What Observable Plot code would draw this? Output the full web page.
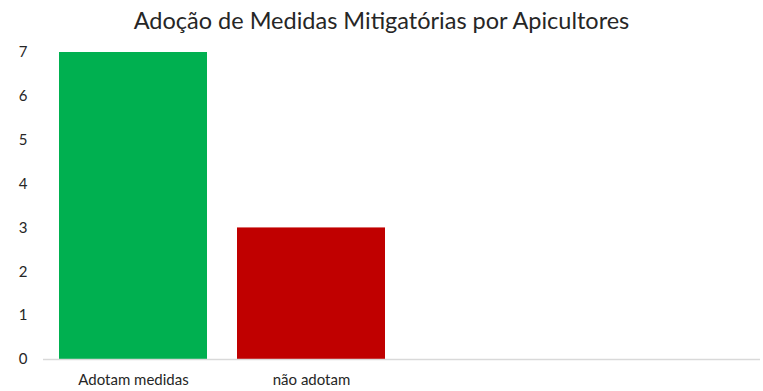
<!DOCTYPE html>
<html>
<head>
<meta charset="utf-8">
<script src="https://cdn.jsdelivr.net/npm/d3@7"></script>
<script src="https://cdn.jsdelivr.net/npm/@observablehq/plot@0.6"></script>
<style>
  body { margin: 0; background: #fff; font-family: Lato, "Open Sans", sans-serif; }
  #title { height: 40px; line-height: 40px; text-align: center; font-size: 23.5px; color: #262626; }
</style>
</head>
<body>
<div id="title">Adoção de Medidas Mitigatórias por Apicultores</div>
<div id="chart"></div>
<script>
const categories = ["Adotam medidas", "não adotam"];
const values = [7, 3];
const colors = ["#00B050", "#C00000"];
const yTicks = [0, 1, 2, 3, 4, 5, 6, 7];

const data = categories.map((c, i) => ({category: c, value: values[i], color: colors[i]}));

const chart = Plot.plot({
  width: 763,
  height: 351,
  marginTop: 12,
  marginBottom: 32,
  marginLeft: 43,
  marginRight: 3,
  style: {fontFamily: "Lato, 'Open Sans', sans-serif", fontSize: "15px", color: "#262626", background: "white"},
  x: {domain: categories, range: [43, 43 + 2 * 178.5], paddingInner: 0.17, paddingOuter: 0.085, label: null, tickSize: 0, tickPadding: 15},
  y: {domain: [0, 7], ticks: yTicks, label: null, tickSize: 0, tickPadding: 16, tickFormat: d3.format("d")},
  marks: [
    Plot.barY(data, {x: "category", y: "value", fill: "color"}),
    Plot.ruleY([0], {stroke: "#d9d9d9", strokeWidth: 1.5})
  ]
});
document.getElementById("chart").appendChild(chart);
</script>
</body>
</html>
